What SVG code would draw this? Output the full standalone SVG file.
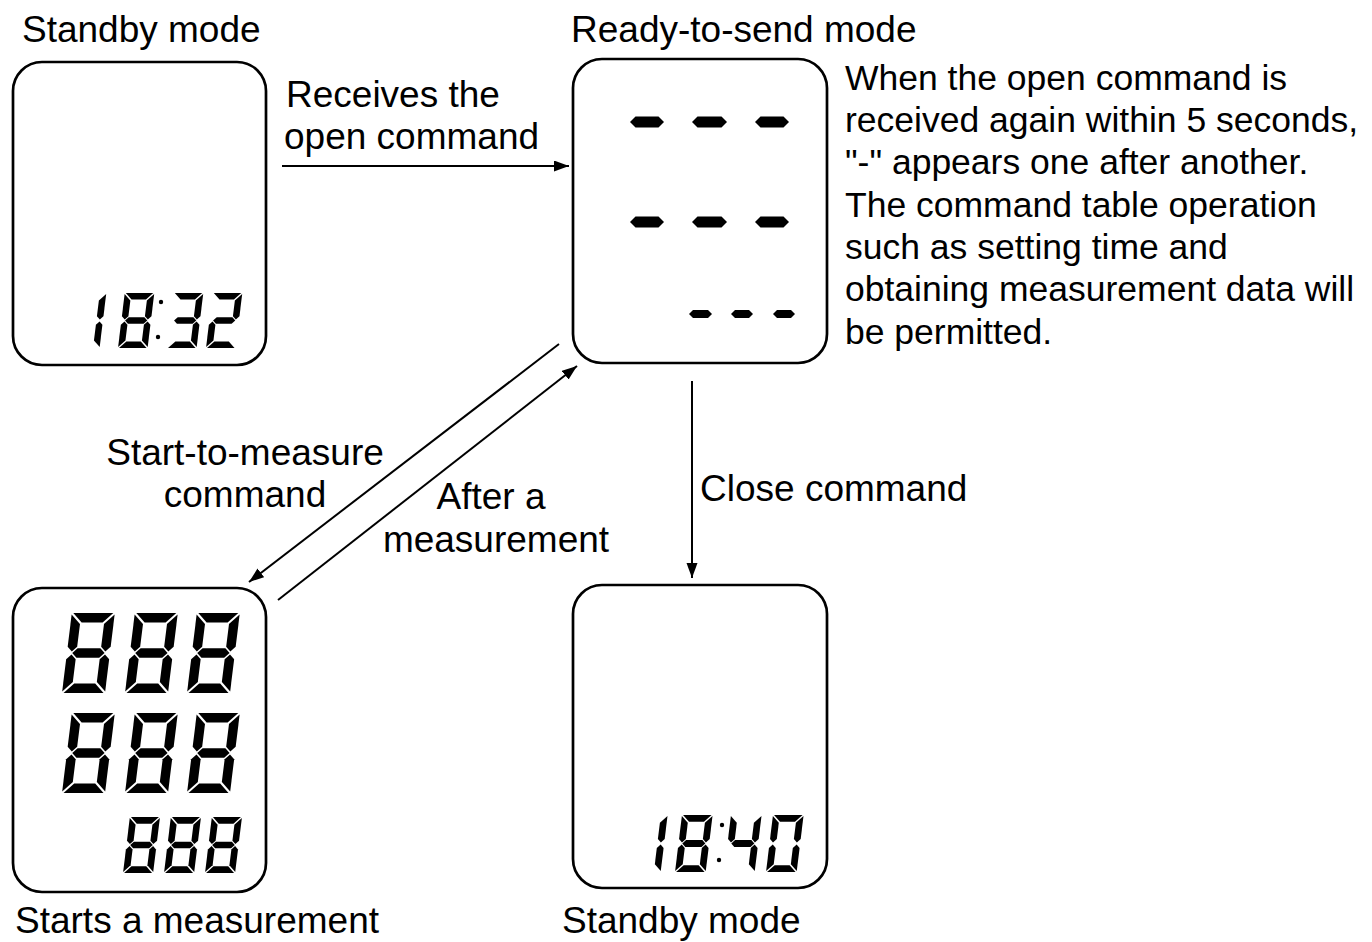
<svg xmlns="http://www.w3.org/2000/svg" width="1372" height="942" viewBox="0 0 1372 942">
<style>
.box{fill:#fff;stroke:#000;stroke-width:2.7}
.lbl{font-family:"Liberation Sans",Arial,sans-serif;font-size:37px;fill:#000}
.para{font-family:"Liberation Sans",Arial,sans-serif;font-size:35.5px;fill:#000}
.mid{text-anchor:middle}
.conn{stroke:#000;stroke-width:2;fill:none;marker-end:url(#arr)}
.seg{fill:#000}
</style>
<defs>
<marker id="arr" markerUnits="userSpaceOnUse" markerWidth="16" markerHeight="12" refX="15" refY="5.5" orient="auto">
<path d="M0,0 L15,5.5 L0,11 z" fill="#000"/>
</marker>
<polygon id="sa" class="seg" points="1.5,-80 41.5,-80 32,-70.5 11,-70.5"/>
<polygon id="sb" class="seg" points="43,-78.5 33.5,-69 33.5,-46.25 38.25,-41.5 43,-46.25"/>
<polygon id="sc" class="seg" points="43,-1.5 33.5,-11 33.5,-33.75 38.25,-38.5 43,-33.75"/>
<polygon id="sd" class="seg" points="1.5,0 41.5,0 32,-9.5 11,-9.5"/>
<polygon id="se" class="seg" points="0,-1.5 9.5,-11 9.5,-33.75 4.75,-38.5 0,-33.75"/>
<polygon id="sf" class="seg" points="0,-78.5 9.5,-69 9.5,-46.25 4.75,-41.5 0,-46.25"/>
<polygon id="sg" class="seg" points="5.35,-40 10.1,-44.75 32.9,-44.75 37.65,-40 32.9,-35.25 10.1,-35.25"/>
<g id="d8"><use href="#sa"/><use href="#sb"/><use href="#sc"/><use href="#sd"/><use href="#se"/><use href="#sf"/><use href="#sg"/></g>
<g id="d1"><use href="#sb"/><use href="#sc"/></g>
<g id="d3"><use href="#sa"/><use href="#sb"/><use href="#sc"/><use href="#sd"/><use href="#sg"/></g>
<g id="d2"><use href="#sa"/><use href="#sb"/><use href="#sg"/><use href="#se"/><use href="#sd"/></g>
<g id="d4"><use href="#sf"/><use href="#sg"/><use href="#sb"/><use href="#sc"/></g>
<g id="d0"><use href="#sa"/><use href="#sb"/><use href="#sc"/><use href="#sd"/><use href="#se"/><use href="#sf"/></g>
</defs>

<g id="node-standby-1">
<rect class="box" x="13" y="62" width="253" height="303" rx="29"/>
<use href="#d1" transform="translate(70,348) scale(0.6875) skewX(-7)"/>
<use href="#d8" transform="translate(118,348) scale(0.6875) skewX(-7)"/>
<circle cx="161" cy="302" r="2.2"/><circle cx="158" cy="337" r="2.2"/>
<use href="#d3" transform="translate(167,348) scale(0.6875) skewX(-7)"/>
<use href="#d2" transform="translate(206,348) scale(0.6875) skewX(-7)"/>
</g>

<g id="node-ready">
<rect class="box" x="573" y="59" width="254" height="304" rx="29"/>
<polygon class="seg" points="630,122 635.5,116.5 658.5,116.5 664,122 658.5,127.5 635.5,127.5"/>
<polygon class="seg" points="692,122 697.5,116.5 721.5,116.5 727,122 721.5,127.5 697.5,127.5"/>
<polygon class="seg" points="755,122 760.5,116.5 783.5,116.5 789,122 783.5,127.5 760.5,127.5"/>
<polygon class="seg" points="630,222 635.5,216.5 658.5,216.5 664,222 658.5,227.5 635.5,227.5"/>
<polygon class="seg" points="692,222 697.5,216.5 721.5,216.5 727,222 721.5,227.5 697.5,227.5"/>
<polygon class="seg" points="755,222 760.5,216.5 783.5,216.5 789,222 783.5,227.5 760.5,227.5"/>
<polygon class="seg" points="689,314 693,310 708,310 712,314 708,318 693,318"/>
<polygon class="seg" points="731,314 735,310 749,310 753,314 749,318 735,318"/>
<polygon class="seg" points="773,314 777,310 791,310 795,314 791,318 777,318"/>
</g>

<g id="node-measure">
<rect class="box" x="13" y="588" width="253" height="304" rx="29"/>
<use href="#d8" transform="translate(62,693) skewX(-7)"/>
<use href="#d8" transform="translate(125,693) skewX(-7)"/>
<use href="#d8" transform="translate(187,693) skewX(-7)"/>
<use href="#d8" transform="translate(62,793) skewX(-7)"/>
<use href="#d8" transform="translate(125,793) skewX(-7)"/>
<use href="#d8" transform="translate(187,793) skewX(-7)"/>
<use href="#d8" transform="translate(123,873) scale(0.7) skewX(-7)"/>
<use href="#d8" transform="translate(164,873) scale(0.7) skewX(-7)"/>
<use href="#d8" transform="translate(205,873) scale(0.7) skewX(-7)"/>
</g>

<g id="node-standby-2">
<rect class="box" x="573" y="585" width="254" height="303" rx="29"/>
<use href="#d1" transform="translate(630,872) scale(0.7125) skewX(-7)"/>
<use href="#d8" transform="translate(675,872) scale(0.7125) skewX(-7)"/>
<circle cx="722" cy="825" r="2.2"/><circle cx="719" cy="860" r="2.2"/>
<use href="#d4" transform="translate(724,872) scale(0.7125) skewX(-7)"/>
<use href="#d0" transform="translate(766,872) scale(0.7125) skewX(-7)"/>
</g>

<g id="connectors">
<line class="conn" x1="282" y1="166" x2="569" y2="166"/>
<line class="conn" x1="692" y1="381" x2="692" y2="578"/>
<line class="conn" x1="559" y1="344" x2="249" y2="582"/>
<line class="conn" x1="278" y1="600" x2="577" y2="366"/>
</g>

<g id="labels">
<text class="lbl" x="22" y="42">Standby mode</text>
<text class="lbl" x="571" y="42">Ready-to-send mode</text>
<text class="lbl" x="286" y="107">Receives the</text>
<text class="lbl" x="284" y="149">open command</text>
<text class="lbl mid" x="245" y="465">Start-to-measure</text>
<text class="lbl mid" x="245" y="507">command</text>
<text class="lbl mid" x="491" y="509">After a</text>
<text class="lbl mid" x="496" y="552">measurement</text>
<text class="lbl" x="700" y="501">Close command</text>
<text class="lbl" x="15" y="933">Starts a measurement</text>
<text class="lbl" x="562" y="933">Standby mode</text>
<text class="para" x="845" y="90">When the open command is</text>
<text class="para" x="845" y="132">received again within 5 seconds,</text>
<text class="para" x="845" y="174">"-" appears one after another.</text>
<text class="para" x="845" y="217">The command table operation</text>
<text class="para" x="845" y="259">such as setting time and</text>
<text class="para" x="845" y="301">obtaining measurement data will</text>
<text class="para" x="845" y="344">be permitted.</text>
</g>
</svg>
